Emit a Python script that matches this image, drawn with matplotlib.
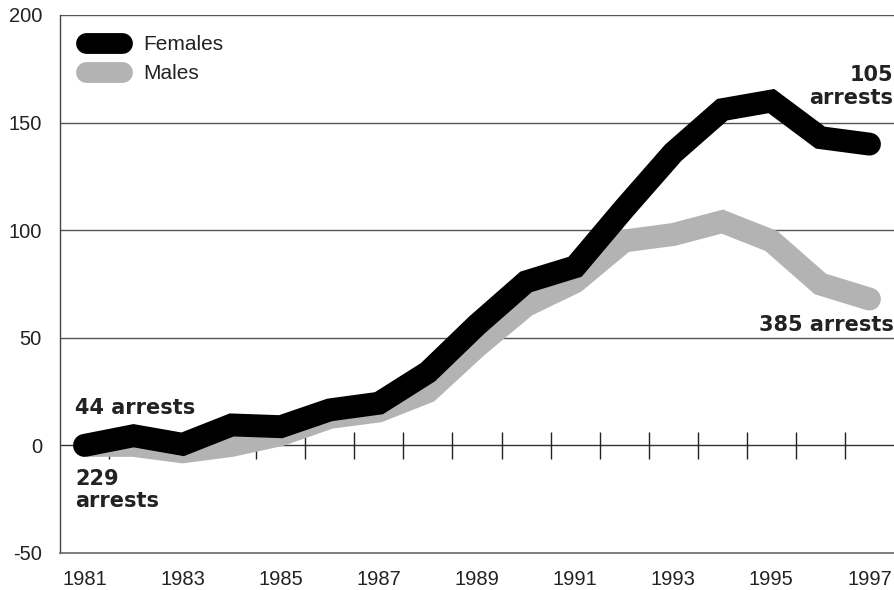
import matplotlib
matplotlib.use("Agg")
import matplotlib.pyplot as plt
import numpy as np

years = list(range(1981, 1998))
females = [0, 4.5, 0.5, 9.5, 8.7, 16.5, 19.6, 34, 56, 76, 83, 110, 136, 156, 160, 143, 140]
males = [0, 0, -3, 0, 5, 13, 16, 25, 46, 65, 76, 95, 98, 104, 95, 75, 68]
xtick_labels = [str(y) for y in range(1981, 1998, 2)]
yticks = [-50, 0, 50, 100, 150, 200]

plt.rcParams['font.family'] = ['Liberation Sans', 'DejaVu Sans']

fig = plt.figure(figsize=(8.94, 5.90), dpi=100)
ax = fig.add_axes([60/894, 37/590, 834/894, 538/590])

ax.set_xlim(1980.5, 1997.5)
ax.set_ylim(-50, 200)

# grid lines
for yv in [50, 100, 150, 200]:
    ax.axhline(yv, color='#555555', lw=1.0, zorder=1)
ax.axhline(0, color='#333333', lw=1.0, zorder=1)
half_years = [y + 0.5 for y in years[:-1]]
ax.vlines(half_years, -6.2, 6.2, color='#222222', lw=1.0, zorder=1)

lw = 16.5
ax.plot(years, males, color='#b3b3b3', lw=lw, solid_capstyle='round',
        solid_joinstyle='miter', zorder=3, label='Males')
ax.plot(years, females, color='#000000', lw=lw, solid_capstyle='round',
        solid_joinstyle='miter', zorder=4, label='Females')

for s in ['top', 'right']:
    ax.spines[s].set_visible(False)
ax.spines['left'].set_color('#444444')
ax.spines['bottom'].set_color('#666666')
ax.spines['left'].set_linewidth(1.0)
ax.spines['bottom'].set_linewidth(1.2)

ax.set_xticks(list(range(1981, 1998, 2)))
ax.set_xticklabels(xtick_labels)
ax.set_yticks(yticks)
ax.set_yticklabels([str(v) for v in yticks])
ax.tick_params(axis='both', length=0, labelsize=14.5, colors='#222222')
ax.tick_params(axis='x', pad=12)
ax.tick_params(axis='y', pad=13)

handles, labels = ax.get_legend_handles_labels()
leg = ax.legend(handles[::-1], labels[::-1], loc='upper left',
                bbox_to_anchor=(85.5/894, 555/590), bbox_transform=fig.transFigure,
                frameon=False, fontsize=15, borderpad=0, borderaxespad=0,
                handlelength=1.75, handletextpad=1.0, labelspacing=0.5)
for line in leg.get_lines():
    line.set_linewidth(15)
    line.set_solid_capstyle('round')
for t in leg.get_texts():
    t.set_color('#222222')

bold = dict(fontsize=15, fontweight='bold', color='#222222', family='DejaVu Sans')
yt = ax.get_yaxis_transform()
ax.text(0.0185, 17.4, '44 arrests', ha='left', va='center', transform=yt, **bold)
ax.text(0.0185, -20.7, '229\narrests', ha='left', va='center', transform=yt,
        linespacing=1.15, **bold)
ax.text(0.9995, 166.8, '105\narrests', ha='right', va='center', transform=yt,
        linespacing=1.15, **bold)
ax.text(0.9995, 56, '385 arrests', ha='right', va='center', transform=yt, **bold)

fig.savefig('out.png', dpi=100)
